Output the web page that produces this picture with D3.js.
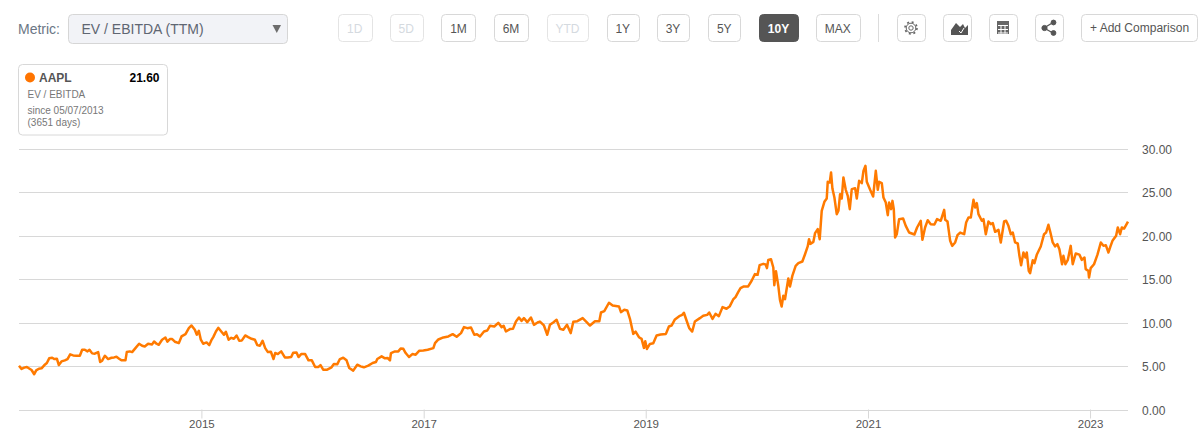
<!DOCTYPE html>
<html><head><meta charset="utf-8">
<script src="https://cdn.jsdelivr.net/npm/d3@7/dist/d3.min.js"></script>
<style>html,body{margin:0;padding:0;background:#fff}svg{display:block}text{font-family:"Liberation Sans",Arial,sans-serif}</style>
</head><body><svg id="c" width="1203" height="438"></svg>
<script>
const ticker="AAPL", metricShort="EV / EBITDA", metricLong="EV / EBITDA (TTM)", lastValue="21.60";
const yTicks=[0,5,10,15,20,25,30];
const xTickYears=[2015,2017,2019,2021,2023];
const rangeButtons=["1D","5D","1M","6M","YTD","1Y","3Y","5Y","10Y","MAX"];
const disabledButtons=["1D","5D","YTD"];
const activeButton="10Y";
const years=[2013.357,2013.38,2013.404,2013.428,2013.452,2013.47,2013.494,2013.512,2013.536,2013.56,2013.584,2013.608,2013.629,2013.656,2013.674,2013.698,2013.716,2013.74,2013.77,2013.794,2013.818,2013.845,2013.875,2013.905,2013.926,2013.95,2013.974,2013.992,2014.016,2014.04,2014.07,2014.088,2014.106,2014.13,2014.16,2014.19,2014.214,2014.235,2014.259,2014.28,2014.316,2014.328,2014.355,2014.376,2014.406,2014.439,2014.466,2014.49,2014.52,2014.556,2014.574,2014.596,2014.616,2014.646,2014.676,2014.694,2014.716,2014.737,2014.761,2014.797,2014.821,2014.857,2014.887,2014.911,2014.941,2014.959,2014.977,2014.995,
2015.016,2015.03,2015.047,2015.071,2015.089,2015.107,2015.131,2015.152,2015.179,2015.203,2015.221,2015.245,2015.269,2015.293,2015.317,2015.341,2015.365,2015.395,2015.422,2015.452,2015.482,2015.503,2015.527,2015.551,2015.575,2015.599,2015.626,2015.65,2015.665,2015.689,2015.719,2015.752,2015.779,2015.809,2015.827,2015.857,2015.875,2015.899,2015.935,2015.965,2015.995,2016.025,2016.055,2016.073,2016.097,2016.133,2016.172,2016.193,2016.223,2016.247,2016.277,2016.307,2016.331,2016.367,2016.403,2016.433,2016.463,2016.502,2016.541,2016.571,2016.583,2016.622,2016.652,2016.676,2016.697,
2016.706,2016.742,2016.772,2016.793,2016.817,2016.838,2016.868,2016.898,2016.928,2016.961,2016.997,2017.036,2017.087,2017.102,2017.132,2017.177,2017.222,2017.261,2017.297,2017.336,2017.363,2017.393,2017.426,2017.456,2017.48,2017.507,2017.543,2017.573,2017.597,2017.636,2017.672,2017.702,2017.72,2017.741,2017.777,2017.804,2017.831,2017.858,2017.882,2017.903,2017.933,2017.966,2017.993,2018.026,2018.047,2018.083,2018.113,2018.137,2018.167,2018.197,2018.228,2018.258,2018.291,2018.324,2018.348,2018.384,2018.432,2018.468,2018.498,2018.543,2018.582,2018.597,2018.627,2018.669,2018.702,2018.759,2018.777,2018.807,2018.834,2018.858,2018.888,2018.909,2018.939,2018.963,2018.984,2018.996,2019.011,2019.038,2019.068,2019.098,2019.134,2019.182,2019.209,2019.233,2019.263,2019.302,2019.329,2019.344,2019.368,2019.392,2019.419,2019.443,2019.488,2019.518,2019.554,2019.572,2019.602,2019.629,2019.659,2019.692,2019.728,2019.758,2019.788,2019.809,2019.833,2019.854,2019.884,2019.923,2019.953,2019.984,
2020.008,2020.026,2020.059,2020.08,2020.092,2020.104,2020.128,2020.149,2020.158,2020.173,2020.194,2020.209,2020.224,2020.239,2020.254,2020.284,2020.299,2020.32,2020.35,2020.374,2020.41,2020.434,2020.458,2020.47,2020.482,2020.509,2020.524,2020.548,2020.566,2020.584,2020.608,2020.629,2020.638,2020.656,2020.668,2020.68,2020.698,2020.719,2020.734,2020.749,2020.764,2020.779,2020.8,2020.818,2020.836,2020.854,2020.884,2020.899,2020.92,2020.944,2020.959,2020.977,2020.989,2021.019,2021.046,2021.07,2021.088,2021.1,2021.124,2021.139,2021.16,2021.178,2021.19,2021.208,2021.22,2021.232,2021.244,2021.259,2021.28,2021.316,2021.34,2021.37,2021.418,2021.442,2021.475,2021.49,2021.514,2021.538,2021.565,2021.598,2021.622,2021.655,2021.686,2021.695,2021.716,2021.74,2021.758,2021.785,2021.806,2021.83,2021.866,2021.884,2021.905,2021.926,2021.95,2021.965,2021.98,2021.995,2022.025,2022.04,2022.061,2022.085,2022.106,2022.124,2022.145,2022.175,2022.196,2022.226,2022.244,2022.265,2022.286,2022.304,2022.325,2022.349,2022.364,2022.379,2022.4,2022.418,2022.43,2022.448,2022.46,2022.484,2022.499,2022.52,2022.556,2022.586,2022.604,2022.625,2022.643,2022.664,2022.685,2022.706,2022.724,2022.748,2022.76,2022.778,2022.8,2022.826,2022.844,2022.871,2022.904,2022.926,2022.95,2022.961,2022.985,2022.991,2023.006,2023.036,2023.067,2023.097,2023.121,2023.142,2023.166,2023.184,2023.202,2023.235,2023.25,2023.271,2023.286,2023.307,2023.342];
const values=[5.04,4.66,4.81,4.89,4.69,4.54,4.05,4.5,4.69,4.73,5.08,5.34,5.88,5.95,5.8,5.84,5.11,5.53,5.65,5.8,6.34,6.22,6.18,6.18,6.87,6.87,6.68,6.87,6.45,6.41,6.6,5.46,5.61,6.18,5.8,5.95,5.99,6.07,5.84,5.65,5.65,6.6,6.68,6.6,7.06,7.56,7.33,7.25,7.56,7.48,7.82,7.56,7.44,8.02,8.28,7.79,8.09,8.09,7.79,7.63,8.4,8.66,9.35,9.66,9.16,8.59,9.05,8.02,
7.56,7.63,7.71,7.4,7.94,8.32,8.97,9.39,8.97,8.59,8.93,8.02,8.24,8.13,8.51,7.9,7.94,8.51,8.32,8.13,8.02,7.4,7.33,7.9,7.06,6.6,6.64,5.8,6.49,6.37,6.68,5.99,5.99,6.03,6.53,6.56,6.03,6.37,6.37,5.65,5.65,4.89,4.89,5.11,4.58,4.58,4.85,5.23,5.19,5.8,5.95,5.65,4.77,4.47,5.15,4.96,4.85,5.04,5.34,5.46,5.8,6.11,5.88,5.92,5.65,
6.49,6.68,6.68,7.02,6.98,6.49,6.03,6.37,6.3,6.76,6.79,6.87,7.06,7.63,8.05,8.28,8.4,8.66,8.36,8.78,9.47,9.35,9.43,8.59,8.66,8.4,8.97,9.08,9.62,9.54,9.96,9.47,9.62,8.97,9.24,9.27,10.11,10.57,10.19,10.5,10.04,10.57,9.73,10,10.11,9.66,8.59,9.73,10,10.31,9.27,9.16,9.73,8.78,10.08,10.15,10.5,10.04,9.65,10.15,10.15,11.15,11.31,12.27,11.96,11.85,11.19,11.46,11.38,10.42,8.69,8.96,8.31,8.12,7.08,7.85,6.96,7.54,7.62,8.5,8.62,8.69,9.54,9.65,10.35,10.73,10.88,11.12,10.23,9.35,8.96,10.12,10.5,10.77,10.88,11.15,10.42,11,10.73,11.77,11.58,11.88,12.65,12.92,13.5,13.96,14.15,14.15,14.77,15.56,
15.48,16.59,16.74,16.67,16.25,17.2,17.28,16.32,14.29,15.9,14.21,12.6,11.84,13.07,12.68,15.06,14.14,15.36,16.51,16.82,17.01,17.85,18.74,19.58,19.04,19.27,20.27,20.73,19.58,22.84,23.87,24.25,26.17,26.09,27.24,25.4,24.37,22.45,22.84,24.75,24.25,26.67,25.25,24.56,23.03,25.33,25.44,24.25,26.28,26.02,27.43,28.01,26.17,25.25,24.48,27.43,25.25,26.17,26.02,24.37,23.79,22.34,23.79,23.03,23.98,23.03,19.77,20.15,21.88,21.95,21.11,20.34,20.11,20.92,21.69,19.5,20.92,21.76,21.3,21.26,21.88,21.69,22.95,21.8,21.61,19.39,18.81,19.2,20.04,20.34,20.15,21.49,22.07,22.07,24.1,23.22,23.72,22.45,21.69,21.88,20.15,21.61,21.3,21.42,20.42,20.65,19.2,21.61,21.69,21.11,20.15,20.34,19.2,19.08,17.66,16.59,18.05,17.47,18.05,15.94,15.67,17.16,16.82,17.78,18.74,20.15,20.34,21.23,20.34,19.2,18.74,19,18.43,16.7,17.66,16.7,17.2,18.81,16.7,17.93,17.8,17.2,17.47,16.13,15.94,15.17,16.25,16.7,17.8,19.2,18.81,18.89,18.05,18.74,19.39,19.96,20.92,20.15,20.92,20.8,21.6];

const toDate=y=>{const Y=Math.floor(y),a=Date.UTC(Y,0,1),b=Date.UTC(Y+1,0,1);return new Date(a+(y-Y)*(b-a));};
const svg=d3.select("#c");
const x=d3.scaleUtc().domain(d3.extent(years,toDate)).range([19,1128]);
const y=d3.scaleLinear().domain([0,30]).range([409.5,148.5]);

// grid
svg.append("g").selectAll("line").data(yTicks).join("line")
 .attr("x1",19).attr("x2",1128).attr("y1",d=>Math.round(y(d))+.5).attr("y2",d=>Math.round(y(d))+.5)
 .attr("stroke","#d8d8d8");
svg.append("g").selectAll("text").data(yTicks).join("text")
 .attr("x",1142).attr("y",d=>y(d)+5).attr("font-size",12).attr("fill","#555").text(d3.format(".2f"));
// x axis
const xAxis=svg.append("g").attr("transform","translate(0,409.5)")
 .call(d3.axisBottom(x).tickValues(xTickYears.map(toDate)).tickFormat(d3.utcFormat("%Y")).tickSize(9).tickPadding(1));
xAxis.select(".domain").remove();
xAxis.selectAll("line").attr("stroke","#d8d8d8");
xAxis.selectAll("text").attr("font-size",11.5).attr("fill","#555").attr("font-family",'"Liberation Sans",Arial,sans-serif');
// line
svg.append("path").attr("fill","none").attr("stroke","#ff7a00").attr("stroke-width",2.5).attr("stroke-linejoin","round")
 .attr("d",d3.line().x((d,i)=>x(toDate(years[i]))).y(d=>y(d))(values));

// header
svg.append("text").attr("x",18).attr("y",34).attr("font-size",14).attr("fill","#6b7685").text("Metric:");
svg.append("rect").attr("x",68.5).attr("y",14.5).attr("width",219).attr("height",29).attr("rx",4).attr("fill","#f2f3f7").attr("stroke","#d6d6d6");
svg.append("text").attr("x",81.5).attr("y",34).attr("font-size",14).attr("fill","#5f6672").text(metricLong);
svg.append("path").attr("d","M272.5 25H281L276.75 33Z").attr("fill","#6d6d6d");

const btnX=[[338,371.5],[390,422.5],[441.5,475.5],[494,528],[547,588],[607,638.5],[657,689],[708.5,740],[759,798],[816,859.5]];
const btn=svg.append("g").selectAll("g").data(rangeButtons).join("g");
btn.append("rect").attr("x",(d,i)=>Math.floor(btnX[i][0])+.5).attr("y",14.5).attr("rx",4)
 .attr("width",(d,i)=>Math.round(btnX[i][1]-btnX[i][0])).attr("height",27)
 .attr("fill",d=>d===activeButton?"#555":"#fff").attr("stroke",d=>d===activeButton?"#555":disabledButtons.includes(d)?"#e4e4e4":"#d8d8d8");
btn.append("text").attr("x",(d,i)=>(btnX[i][0]+btnX[i][1])/2).attr("y",33).attr("text-anchor","middle").attr("font-size",12)
 .attr("font-weight",d=>d===activeButton?"bold":null)
 .attr("fill",d=>d===activeButton?"#fff":disabledButtons.includes(d)?"#d5dadf":"#555").text(d=>d);
svg.append("line").attr("x1",878.5).attr("x2",878.5).attr("y1",14).attr("y2",42).attr("stroke","#dcdcdc");
const iconBoxes=[897,943.5,989,1035];
svg.append("g").selectAll("rect").data(iconBoxes).join("rect").attr("x",d=>Math.floor(d)+.5).attr("y",14.5).attr("width",28).attr("height",27).attr("rx",4).attr("fill","#fff").attr("stroke","#d8d8d8");
// gear
const g=svg.append("g").attr("transform","translate(911,28)");
g.append("circle").attr("r",2.2).attr("fill","none").attr("stroke","#666");
g.append("circle").attr("r",4.8).attr("fill","none").attr("stroke","#666");
g.append("circle").attr("r",6).attr("fill","none").attr("stroke","#666").attr("stroke-width",1.6).attr("stroke-dasharray","2 2.71");
// area icon
svg.append("path").attr("d","M951 35V30L956 23L960 27L963 24L965 28L968 25V35Z").attr("fill","#555");
svg.append("path").attr("d","M959 31L961 33L964 28").attr("fill","none").attr("stroke","#fff");
// table icon
const t=svg.append("g").attr("transform","translate(997,21)");
t.append("rect").attr("width",12).attr("height",13).attr("fill","#666");
t.append("path").attr("d","M1 4.5H11M1 8.5H11M4 4V12.5M8 4V12.5M1 12H11").attr("stroke","#fff").attr("fill","none");
// share icon
const s=svg.append("g").attr("fill","#555").attr("stroke","#555");
s.append("path").attr("d","M1053 22.5L1044 28L1053 33").attr("fill","none").attr("stroke-width",1.3);
s.append("circle").attr("cx",1044.5).attr("cy",28).attr("r",2.6);
s.append("circle").attr("cx",1053.5).attr("cy",22.5).attr("r",2.4);
s.append("circle").attr("cx",1053.5).attr("cy",33).attr("r",2.4);
svg.append("rect").attr("x",1081.5).attr("y",14.5).attr("width",116).attr("height",27).attr("rx",4).attr("fill","#fff").attr("stroke","#d8d8d8");
svg.append("text").attr("x",1090).attr("y",32).attr("font-size",12).attr("fill","#555").text("+ Add Comparison");

// card
svg.append("rect").attr("x",18.5).attr("y",64.5).attr("width",149).attr("height",70.5).attr("rx",4).attr("fill","#fff").attr("stroke","#d8d8d8");
svg.append("circle").attr("cx",30).attr("cy",77.5).attr("r",5).attr("fill","#ff7400");
svg.append("text").attr("x",39).attr("y",82).attr("font-size",12).attr("font-weight","bold").attr("fill","#555").text(ticker);
svg.append("text").attr("x",159.5).attr("y",82).attr("text-anchor","end").attr("font-size",12).attr("font-weight","bold").attr("fill","#000").text(lastValue);
svg.append("text").attr("x",27.5).attr("y",98).attr("font-size",10).attr("fill","#777").text(metricShort);
svg.append("text").attr("x",27.5).attr("y",114).attr("font-size",10).attr("fill","#777").text("since 05/07/2013");
svg.append("text").attr("x",27.5).attr("y",126).attr("font-size",10).attr("fill","#777").text("(3651 days)");
</script></body></html>
